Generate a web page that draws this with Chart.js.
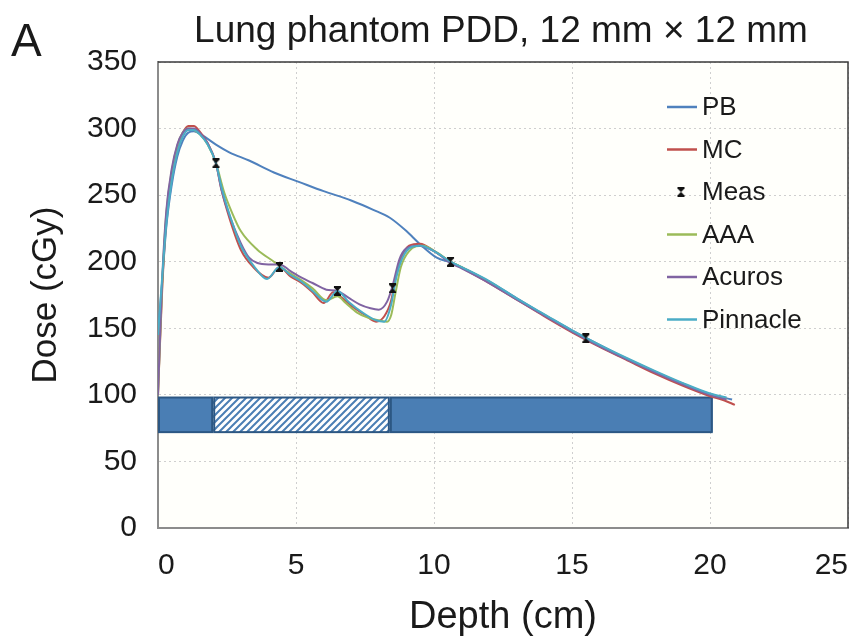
<!DOCTYPE html>
<html>
<head>
<meta charset="utf-8">
<title>Lung phantom PDD</title>
<script src="https://cdn.jsdelivr.net/npm/chart.js@4.4.1/dist/chart.umd.min.js"></script>
<style>
  html, body { margin: 0; padding: 0; background: #fff; }
  #wrap { width: 861px; height: 640px; }
</style>
</head>
<body>
<div id="wrap"><canvas id="pdd" width="861" height="640"></canvas></div>
<script>
// Depth (cm) and dose (cGy) for each dose calculation
var pbDepth = [0, 0.15, 0.3, 0.5, 0.7, 0.9, 1.1, 1.3, 1.6, 2.1, 2.6, 3.3, 4.2, 5.1, 6.0, 7.0, 7.8, 8.4, 9.0, 9.5, 10.1, 10.6, 11, 12, 13, 14, 15, 16, 17, 18, 19, 20, 20.8];
var pbDose  = [145, 185, 226, 258, 279, 291, 297, 298, 295, 288, 282, 276, 267, 260, 253, 246, 239, 233, 223, 213, 203, 199.5, 196, 185, 172.5, 160, 148.5, 137.5, 127, 117.5, 108.5, 100.5, 96.5];

var mcDepth = [0, 0.15, 0.3, 0.5, 0.7, 0.9, 1.1, 1.3, 1.5, 1.8, 2.1, 2.3, 2.6, 3.0, 3.45, 4.0, 4.4, 4.8, 5.2, 5.6, 6.0, 6.35, 6.6, 7.0, 7.5, 7.9, 8.2, 8.45, 8.6, 8.8, 9.1, 9.5, 10.0, 10.6, 11, 12, 13, 14, 15, 16, 17, 18, 19, 20, 20.5, 20.9];
var mcDose  = [100, 178, 232, 266, 286, 297, 302, 302, 298, 289, 274, 254, 232, 209, 196, 188, 196, 189, 184, 177, 169, 177, 174, 167, 160, 155, 159, 171, 187, 202, 212, 213.5, 208, 200, 195.5, 184, 171.5, 159, 147, 136, 126, 116, 107, 99, 96, 92.5];

var aaaDepth = [0, 0.15, 0.3, 0.5, 0.7, 0.9, 1.1, 1.3, 1.5, 1.8, 2.1, 2.4, 2.7, 3.0, 3.6, 4.2, 4.45, 4.8, 5.2, 5.6, 6.1, 6.5, 6.8, 7.2, 7.6, 8.0, 8.3, 8.45, 8.6, 8.8, 9.1, 9.6, 10.1, 10.6, 11, 12, 13, 14, 15, 16, 17, 18, 19, 20, 20.6];
var aaaDose  = [100, 182, 236, 268, 287, 297, 300, 299, 296, 288, 274, 252, 236, 223, 209, 200, 196, 191, 186, 180, 171, 174, 169, 162, 158, 156, 155, 160, 176, 196, 208, 212, 207, 200, 196, 185, 172, 160, 148, 137, 127, 117.5, 108.5, 100.5, 97];

var acurosDepth = [0, 0.15, 0.3, 0.5, 0.7, 0.9, 1.1, 1.3, 1.5, 1.8, 2.1, 2.3, 2.6, 3.0, 3.3, 3.6, 4.0, 4.4, 4.8, 5.2, 5.6, 6.1, 6.5, 6.9, 7.3, 7.7, 8.0, 8.3, 8.5, 8.75, 9.0, 9.4, 10.0, 10.6, 11, 12, 13, 14, 15, 16, 17, 18, 19, 20, 20.6];
var acurosDose  = [100, 186, 238, 270, 288, 297, 300, 300, 297, 289, 274, 254, 234, 214, 203, 199, 198, 198, 193, 188, 184, 179, 178, 173, 168, 165, 164, 170, 182, 202, 210, 212, 208, 199, 195, 184, 171.5, 159.5, 147.5, 136.5, 126.5, 117, 108, 100, 96.5];

var pinnDepth = [0, 0.15, 0.3, 0.5, 0.7, 0.9, 1.1, 1.3, 1.5, 1.8, 2.1, 2.3, 2.6, 3.0, 3.5, 3.95, 4.4, 4.8, 5.2, 5.6, 6.1, 6.5, 6.9, 7.4, 7.9, 8.2, 8.45, 8.6, 8.8, 9.1, 9.5, 10.0, 10.6, 11, 12, 13, 14, 15, 16, 17, 18, 19, 20, 20.6];
var pinnDose  = [145, 188, 228, 261, 282, 294, 299, 299, 296, 288, 274, 256, 235, 212, 196, 187, 196, 190, 185, 178, 170, 178, 170, 162, 156, 155, 168, 185, 200, 210, 212, 208, 200, 196, 185.5, 172.5, 160.5, 148.5, 137.5, 127.5, 118, 109, 101, 98];

// Measured points
var measDepth = [2.1, 4.4, 6.5, 8.5, 10.6, 15.5];
var measDose  = [274, 196, 178, 180, 200, 142.5];

// Phantom slabs sketched along the bottom of the plot
var slabStart = [0, 2.0, 8.4];
var slabEnd = [2.0, 8.4, 20.1];
var slabMaterial = ["water", "lung", "water"];
var slabDoseRange = [72, 98];

// Axis ticks
var xTickValues = [0, 5, 10, 15, 20, 25];
var yTickValues = [0, 50, 100, 150, 200, 250, 300, 350];

var FONT = "'Liberation Sans', Arial, Helvetica, sans-serif";

function pairs(xs, ys) {
  return xs.map(function (x, i) { return { x: x, y: ys[i] }; });
}

// little hourglass marker used for the measurements
function makeMeasMarker() {
  var c = document.createElement("canvas");
  c.width = 9; c.height = 10;
  var g = c.getContext("2d");
  g.fillStyle = "#111";
  g.fillRect(1, 0, 7, 2);
  g.fillRect(1, 8, 7, 2);
  g.beginPath(); g.moveTo(1.5, 2); g.lineTo(7.5, 2); g.lineTo(4.5, 5.2); g.closePath(); g.fill();
  g.beginPath(); g.moveTo(1.5, 8); g.lineTo(7.5, 8); g.lineTo(4.5, 4.8); g.closePath(); g.fill();
  return c;
}
var measMarker = makeMeasMarker();

function makeHatch(color) {
  var c = document.createElement("canvas");
  c.width = 7; c.height = 7;
  var g = c.getContext("2d");
  g.fillStyle = "#fff";
  g.fillRect(0, 0, 7, 7);
  g.strokeStyle = color;
  g.lineWidth = 2;
  g.beginPath();
  g.moveTo(-1, 8); g.lineTo(8, -1);
  g.moveTo(-4, 4); g.lineTo(4, -4);
  g.moveTo(3, 11); g.lineTo(11, 3);
  g.stroke();
  return c;
}

function lineSet(label, xs, ys, color, order) {
  return {
    label: label,
    data: pairs(xs, ys),
    borderColor: color,
    backgroundColor: color,
    borderWidth: 2,
    pointRadius: 0,
    fill: false,
    cubicInterpolationMode: "monotone",
    order: order
  };
}

var datasets = [
  lineSet("PB", pbDepth, pbDose, "#4f81bd", 5),
  lineSet("MC", mcDepth, mcDose, "#c0504d", 4),
  {
    label: "Meas",
    data: pairs(measDepth, measDose),
    showLine: false,
    pointStyle: measMarker,
    pointRadius: 5,
    borderColor: "#111",
    backgroundColor: "#111",
    order: 0
  },
  lineSet("AAA", aaaDepth, aaaDose, "#9bbb59", 3),
  lineSet("Acuros", acurosDepth, acurosDose, "#8064a2", 2),
  lineSet("Pinnacle", pinnDepth, pinnDose, "#4bacc6", 1)
];

var extras = {
  id: "extras",
  beforeDraw: function (chart) {
    var ctx = chart.ctx, a = chart.chartArea;
    ctx.save();
    ctx.fillStyle = "#fff";
    ctx.fillRect(0, 0, chart.width, chart.height);
    ctx.fillStyle = "#fffffb";
    ctx.fillRect(a.left, a.top, a.right - a.left, a.bottom - a.top);
    ctx.restore();
  },
  beforeDatasetsDraw: function (chart) {
    // phantom slabs: water solid, lung hatched
    var ctx = chart.ctx, xs = chart.scales.x, ys = chart.scales.y;
    var yTop = ys.getPixelForValue(slabDoseRange[1]);
    var yBot = ys.getPixelForValue(slabDoseRange[0]);
    var hatch = ctx.createPattern(makeHatch("#4a7eb4"), "repeat");
    ctx.save();
    for (var i = 0; i < slabStart.length; i++) {
      var x0 = xs.getPixelForValue(slabStart[i]);
      var x1 = xs.getPixelForValue(slabEnd[i]);
      ctx.fillStyle = slabMaterial[i] === "lung" ? hatch : "#4a7eb4";
      ctx.fillRect(x0, yTop, x1 - x0, yBot - yTop);
      ctx.lineWidth = 2;
      ctx.strokeStyle = "#2c5783";
      ctx.strokeRect(x0 + 1, yTop, x1 - x0 - 2, yBot - yTop);
    }
    ctx.restore();
  },
  afterDraw: function (chart) {
    var ctx = chart.ctx, a = chart.chartArea;
    ctx.save();
    // top and right frame
    ctx.strokeStyle = "#3a3a3a";
    ctx.lineWidth = 1.5;
    ctx.beginPath();
    ctx.moveTo(a.left, a.top);
    ctx.lineTo(a.right, a.top);
    ctx.lineTo(a.right, a.bottom);
    ctx.stroke();

    // legend
    ctx.font = "26px " + FONT;
    ctx.textBaseline = "middle";
    ctx.textAlign = "left";
    chart.data.datasets.forEach(function (ds, i) {
      var y = 107 + i * 42.5;
      if (ds.label === "Meas") {
        ctx.drawImage(measMarker, 681 - 4.5, y - 5);
      } else {
        ctx.strokeStyle = ds.borderColor;
        ctx.lineWidth = 2.5;
        ctx.beginPath();
        ctx.moveTo(667, y);
        ctx.lineTo(697, y);
        ctx.stroke();
      }
      ctx.fillStyle = "#1a1a1a";
      ctx.fillText(ds.label, 702, y + 1);
    });

    // title and panel letter
    ctx.fillStyle = "#1a1a1a";
    ctx.textBaseline = "alphabetic";
    ctx.textAlign = "center";
    ctx.font = "37px " + FONT;
    ctx.fillText("Lung phantom PDD, 12 mm \u00d7 12 mm", 501, 42);
    ctx.textAlign = "left";
    ctx.font = "46px " + FONT;
    ctx.fillText("A", 11, 56);
    ctx.restore();
  }
};

new Chart(document.getElementById("pdd"), {
  type: "line",
  data: { datasets: datasets },
  plugins: [extras],
  options: {
    responsive: false,
    animation: false,
    layout: { padding: { top: 62, right: 13, left: 0, bottom: 0 } },
    plugins: {
      legend: { display: false },
      title: { display: false },
      tooltip: { enabled: false }
    },
    scales: {
      x: {
        type: "linear",
        min: 0,
        max: 25,
        afterBuildTicks: function (s) { s.ticks = xTickValues.map(function (v) { return { value: v }; }); },
        afterFit: function (s) { s.height = 112; s.paddingRight = 0; s.paddingLeft = 0; },
        grid: { color: "#cfcfcf", lineWidth: 1, drawTicks: false },
        border: { color: "#8c8c8c", width: 2, dash: [2, 3] },
        ticks: { color: "#1a1a1a", padding: 20, align: "inner", font: { family: FONT, size: 30 } },
        title: {
          display: true,
          text: "Depth (cm)",
          color: "#1a1a1a",
          font: { family: FONT, size: 38 },
          padding: { top: 0, bottom: 0 }
        }
      },
      y: {
        min: 0,
        max: 350,
        afterBuildTicks: function (s) { s.ticks = yTickValues.map(function (v) { return { value: v }; }); },
        afterFit: function (s) { s.width = 158; },
        grid: { color: "#cfcfcf", lineWidth: 1, drawTicks: false },
        border: { color: "#8c8c8c", width: 2, dash: [2, 3] },
        ticks: { color: "#1a1a1a", padding: 21, font: { family: FONT, size: 30 } },
        title: {
          display: true,
          text: "Dose (cGy)",
          color: "#1a1a1a",
          font: { family: FONT, size: 35 },
          padding: { top: 25, bottom: 0 }
        }
      }
    }
  }
});
</script>
</body>
</html>
